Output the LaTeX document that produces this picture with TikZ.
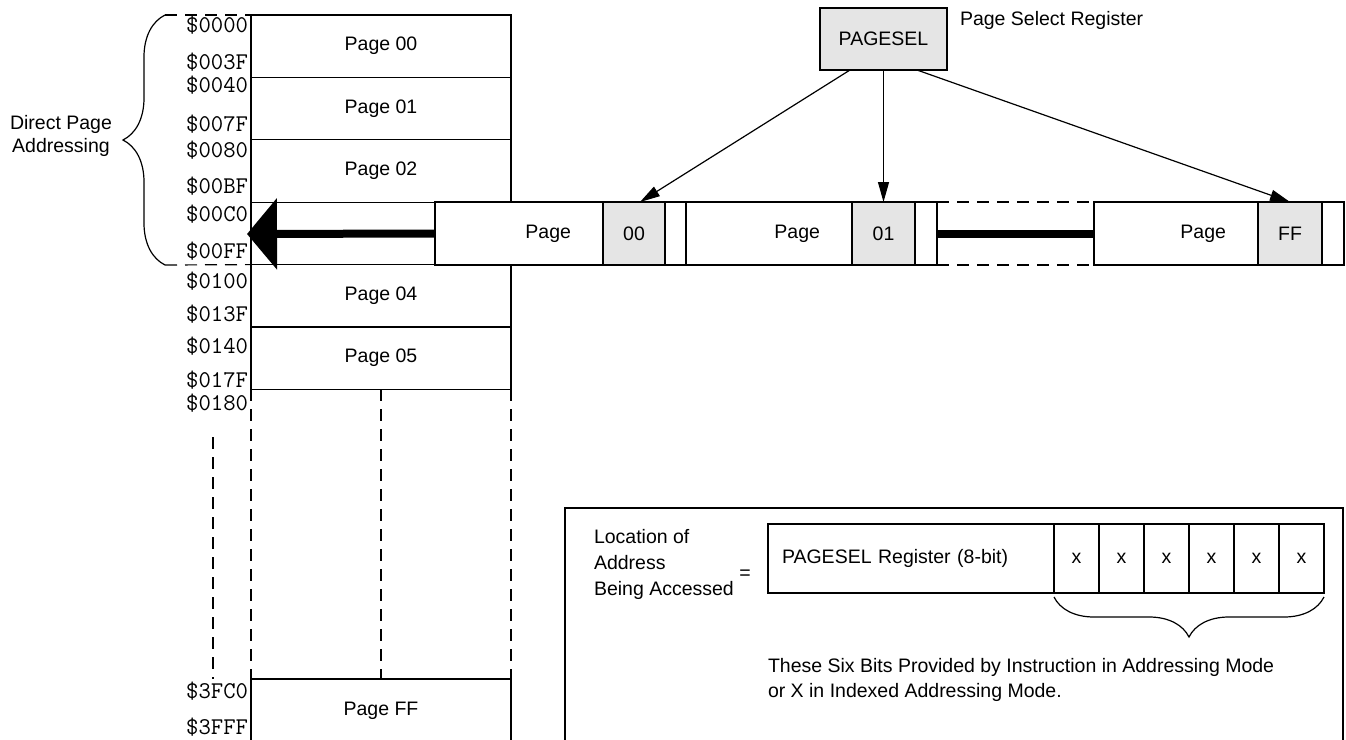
\documentclass[tikz,border=0pt]{standalone}
\usepackage{fontspec}
\setmainfont{Liberation Sans}
\usetikzlibrary{positioning,arrows.meta,decorations.pathreplacing}
\definecolor{regfill}{RGB}{229,229,229}

\begin{document}
\begin{tikzpicture}[x=0.5pt,y=-0.5pt,line width=0.6pt,
    every node/.style={inner sep=0pt,outer sep=0pt,font=\fontsize{9.75}{11.75}\selectfont},
    memrow/.style={draw,fill=white,minimum width=130pt,minimum height=31.2pt},
    addr/.style={anchor=east,font=\ttfamily\fontsize{12}{12}\selectfont},
    cell/.style={draw,fill=white,minimum height=31.5pt},
    pagecell/.style={cell,text width=#1,align=right,inner xsep=16pt},
    greycell/.style={cell,fill=regfill,minimum width=#1},
    endcell/.style={cell,minimum width=#1},
    dashline/.style={dash pattern=on 6pt off 4pt},
    selarrow/.style={-{Triangle[length=10pt,width=5.5pt]}},
    bigarrow/.style={line width=4pt,-{Triangle[length=15pt,width=35pt]}},
    bitcell/.style={draw,minimum width=22.5pt,minimum height=34.5pt},
    brace/.style={decorate,decoration={brace,amplitude=#1}}]
        \useasboundingbox (0,0) rectangle (1346,740);
        \clip (0,0) rectangle (1346,740);
        % memory map
        \node[memrow,anchor=north west] (p00) at (251,15) {Page 00};
        \node[memrow,below=0pt of p00] (p01) {Page 01};
        \node[memrow,below=0pt of p01] (p02) {Page 02};
        \node[memrow,below=0pt of p02] (p03) {};
        \node[memrow,below=0pt of p03] (p04) {Page 04};
        \node[memrow,below=0pt of p04] (p05) {Page 05};
        \node[memrow,anchor=north west,minimum height=31.5pt] (pFF) at (251,679) {Page FF};
        \foreach \a/\y in {0000/25,003F/62,0040/85,007F/124,0080/150,00BF/186,00C0/214,00FF/251,
                           0100/281,013F/314,0140/346,017F/380,0180/403,3FC0/691,3FFF/727}
            \node[addr] (a\a) at (248,\y) {\$\a};
        \draw[dashline] (p05.south west) -- (pFF.north west);
        \draw[dashline] (p05.south) -- (pFF.north);
        \draw[dashline] (p05.south east) -- (pFF.north east);
        \coordinate (gapT) at (213,437);
        \coordinate (gapB) at (213,679);
        \draw[dashline] (gapT) -- (gapB);
        % direct page brace
        \coordinate (brT) at (165,15);
        \coordinate (brB) at (165,265);
        \draw[brace=21pt] (brB) -- (brT);
        \draw[dashline] (brT) -- (p00.north west);
        \draw[dashline] (brB) -- (p04.north west);
        \node[align=center] (dpa) at (61,136) {Direct Page\\Addressing};
        % selectable pages
        \node[pagecell=52pt,anchor=west] (s00) at (435,233.5) {Page};
        \node[greycell=31pt,right=0pt of s00] (g00) {00};
        \node[endcell=10.5pt,right=0pt of g00] (e00) {};
        \node[pagecell=51pt,right=0pt of e00] (s01) {Page};
        \node[greycell=31.5pt,right=0pt of s01] (g01) {01};
        \node[endcell=11pt,right=0pt of g01] (e01) {};
        \node[minimum width=78.5pt,minimum height=31.5pt,right=0pt of e01] (gap) {};
        \node[pagecell=50pt,right=0pt of gap] (sFF) {Page};
        \node[greycell=32pt,right=0pt of sFF] (gFF) {FF};
        \node[endcell=11pt,right=0pt of gFF] (eFF) {};
        \draw[dashline] (gap.north west) -- (gap.north east);
        \draw[dashline] (gap.south west) -- (gap.south east);
        \draw[line width=4pt] (gap.west) -- (gap.east);
        \coordinate (tip) at (247,234);
        \draw[bigarrow] (s00.west) -- (tip);
        % page select register
        \node[draw,fill=regfill,minimum width=63.5pt,minimum height=31pt] (pagesel) at (883.5,39) {PAGESEL};
        \node[anchor=west] (psr) at ([xshift=6.5pt,yshift=-6pt]pagesel.north east) {Page Select Register};
        \draw[selarrow] ([xshift=-16.75pt]pagesel.south) -- ([xshift=3pt]g00.north);
        \draw[selarrow] (pagesel.south) -- (g01.north);
        \draw[selarrow] ([xshift=16.75pt]pagesel.south) -- (gFF.north);
        % address formation
        \node[draw,anchor=north west,minimum width=389pt,minimum height=150pt] (info) at (565,508) {};
        \node[anchor=west,align=left,font=\fontsize{9.75}{13}\selectfont] (loc) at (594,564) {Location of\\Address\\Being Accessed};
        \node (eq) at (745,575) {=};
        \node[draw,anchor=west,minimum height=34.5pt,text width=129pt,inner xsep=7pt,align=left] (reg) at (768,558.5) {PAGESEL Register (8-bit)};
        \coordinate (x0) at (reg.east);
        \foreach \i [count=\j from 0] in {1,...,6}
            \node[bitcell,right=0pt of x\j] (x\i) {x};
        \draw[brace=20pt] ([yshift=-2pt]x6.south east) -- ([yshift=-2pt]x1.south west);
        \node[anchor=west,align=left,font=\fontsize{9.75}{12.5}\selectfont] (note) at (768,679.5)
            {These Six Bits Provided by Instruction in Addressing Mode\\or X in Indexed Addressing Mode.};
    \end{tikzpicture}
\end{document}
